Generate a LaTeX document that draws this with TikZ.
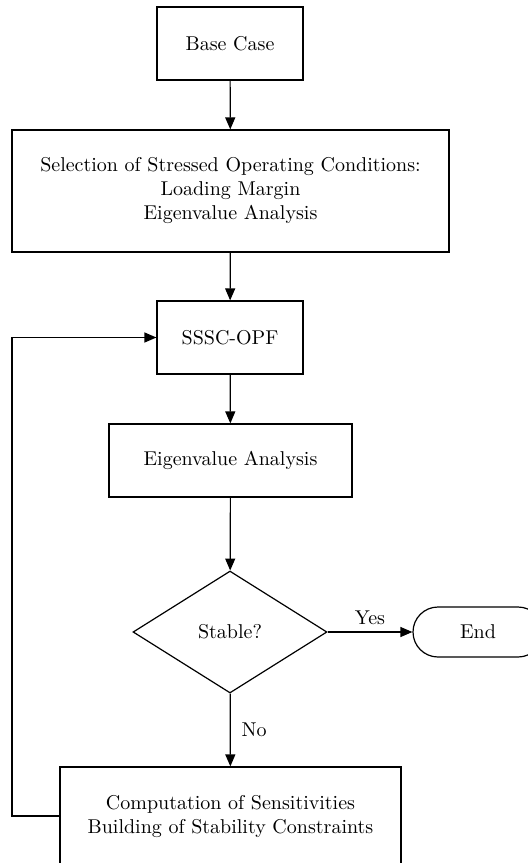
\documentclass[tikz,border=0pt]{standalone}
\usetikzlibrary{arrows.meta,shapes.geometric,shapes.misc}

\begin{document}
\begin{tikzpicture}[
					x = 1pt, y = 1pt,
					line width = 0.6pt,
					>={Triangle[length=6pt,width=5pt]},
					box/.style = {draw, rectangle, align=center, inner sep=0pt},
					decision/.style = {draw, diamond, inner sep=0pt, minimum width=97pt, minimum height=61pt},
					term/.style = {draw, rounded rectangle, inner sep=0pt, minimum width=65pt, minimum height=25pt}]

					\useasboundingbox (0,0) rectangle (263.5,-431.5);

					\node[box, minimum width=73pt, minimum height=36.5pt] (base) at (115,-21.75) {Base Case};
					\node[box, minimum width=218.5pt, minimum height=61pt] (select) at (115.25,-95.5)
						{Selection of Stressed Operating Conditions:\\Loading Margin\\Eigenvalue Analysis};
					\node[box, minimum width=73pt, minimum height=36.5pt] (opf) at (115,-168.75) {SSSC-OPF};
					\node[box, minimum width=121.5pt, minimum height=36.5pt] (eig) at (115.25,-230.25) {Eigenvalue Analysis};
					\node[decision] (stable) at (115,-316) {Stable?};
					\node[term] (end) at (239,-316) {End};
					\node[box, minimum width=170.5pt, minimum height=49pt] (comp) at (115.25,-408)
						{Computation of Sensitivities\\Building of Stability Constraints};
					\coordinate (back) at (6,-408);

					\draw[->] (base) -- (select);
					\draw[->] (select) -- (opf);
					\draw[->] (opf) -- (eig);
					\draw[->] (eig) -- (stable);
					\draw[->] (stable) -- node[above]{Yes} (end);
					\draw[->] (stable) -- node[right,xshift=2pt]{No} (comp);
					\draw[->] (comp.west) -- (back) |- (opf.west);

				\end{tikzpicture}
\end{document}
